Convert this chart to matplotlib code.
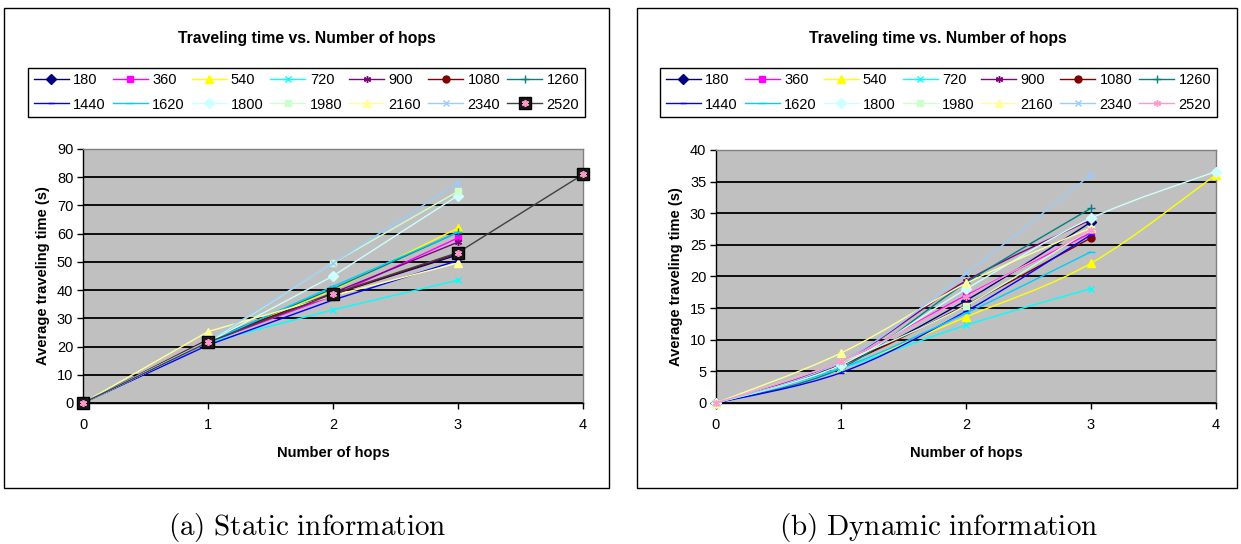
import matplotlib
matplotlib.use("Agg")
import matplotlib.pyplot as plt
from matplotlib.lines import Line2D
from matplotlib.patches import Rectangle, PathPatch
from matplotlib.path import Path

plt.rcParams['font.family'] = ['Liberation Sans', 'DejaVu Sans']
plt.rcParams['mathtext.fontset'] = 'cm'

W, H = 1241, 544

# Mobile agent lifetimes (series labels)
series_labels = ['180', '360', '540', '720', '900', '1080', '1260',
                 '1440', '1620', '1800', '1980', '2160', '2340', '2520']
hop_ticks = [0, 1, 2, 3, 4]

# Static information: average traveling time (s) per number of hops
static_180 = [0, 21.5, 38.5, 52.5]
static_360 = [0, 21.5, 38.0, 58.5]
static_540 = [0, 22.0, 40.0, 62.0]
static_720 = [0, 21.5, 33.0, 43.5]
static_900 = [0, 22.0, 39.0, 57.0]
static_1080 = [0, 22.5, 38.5, 53.0]
static_1260 = [0, 22.0, 40.5, 60.5]
static_1440 = [0, 20.5, 36.5, 50.5]
static_1620 = [0, 21.5, 41.3, 60.5]
static_1800 = [0, 21.5, 45.0, 73.5]
static_1980 = [0, 21.5, 49.6, 75.0]
static_2160 = [0, 25.3, 38.0, 49.6]
static_2340 = [0, 22.0, 49.5, 78.0]
static_2520 = [0, 21.5, 38.7, 53.3, 81.0]

# Dynamic information: average traveling time (s) per number of hops
dynamic_180 = [0, 6.0, 16.2, 28.6]
dynamic_360 = [0, 6.5, 17.0, 26.9]
dynamic_540 = [0, 5.5, 13.6, 22.1, 36.1]
dynamic_720 = [0, 5.5, 12.3, 18.1]
dynamic_900 = [0, 6.5, 19.3, 29.0]
dynamic_1080 = [0, 6.0, 15.5, 26.1]
dynamic_1260 = [0, 5.5, 19.0, 30.8]
dynamic_1440 = [0, 4.8, 14.5, 26.6]
dynamic_1620 = [0, 5.5, 14.2, 23.9]
dynamic_1800 = [0, 6.0, 18.0, 29.2, 36.6]
dynamic_1980 = [0, 6.5, 15.4, 27.5]
dynamic_2160 = [0, 7.9, 18.9, 27.7]
dynamic_2340 = [0, 6.5, 20.5, 36.1]
dynamic_2520 = [0, 6.6, 16.8, 27.4]

static_series = [static_180, static_360, static_540, static_720, static_900,
                 static_1080, static_1260, static_1440, static_1620,
                 static_1800, static_1980, static_2160, static_2340,
                 static_2520]
dynamic_series = [dynamic_180, dynamic_360, dynamic_540, dynamic_720,
                  dynamic_900, dynamic_1080, dynamic_1260, dynamic_1440,
                  dynamic_1620, dynamic_1800, dynamic_1980, dynamic_2160,
                  dynamic_2340, dynamic_2520]

colors = ['#000080', '#FF00FF', '#FFFF00', '#00FFFF', '#800080', '#800000',
          '#008080', '#0000FF', '#00CCFF', '#CCFFFF', '#CCFFCC', '#FFFF99',
          '#99CCFF', '#FF99CC']
star = (6, 2, 0)
markers = ['D', 's', '^', 'x', star, 'o', '+', '_', '_', 'D', 's', '^',
           'x', star]
msizes = [5, 5, 6, 5, 5, 5, 6, 4, 6, 5, 5, 6, 5, 5]


def px_box(x0, y0, x1, y1):
    """Pixel box (top-left origin) -> figure fraction [l, b, w, h]."""
    return [x0 / W, (H - y1) / H, (x1 - x0) / W, (y1 - y0) / H]


def smooth_path(xs, ys):
    """Bezier path through the points, with Catmull-Rom style tangents."""
    pts = list(zip(xs, ys))
    verts = [pts[0]]
    codes = [Path.MOVETO]
    n = len(pts)
    for i in range(n - 1):
        p0 = pts[i - 1] if i > 0 else pts[i]
        p1 = pts[i]
        p2 = pts[i + 1]
        p3 = pts[i + 2] if i + 2 < n else pts[i + 1]
        c1 = (p1[0] + (p2[0] - p0[0]) / 6, p1[1] + (p2[1] - p0[1]) / 6)
        c2 = (p2[0] - (p3[0] - p1[0]) / 6, p2[1] - (p3[1] - p1[1]) / 6)
        verts += [c1, c2, p2]
        codes += [Path.CURVE4] * 3
    return Path(verts, codes)


fig = plt.figure(figsize=(W / 100, H / 100), dpi=100)
fig.patch.set_facecolor('white')

# Chart frames
for box in (px_box(4, 8, 609, 488), px_box(637, 8, 1237, 488)):
    fig.patches.append(Rectangle((box[0], box[1]), box[2], box[3],
                                 transform=fig.transFigure, fill=False,
                                 edgecolor='black', linewidth=1.0))


def style_axes(ax, ymax, ystep):
    ax.set_facecolor('#C0C0C0')
    ax.set_xlim(0, 4)
    ax.set_ylim(0, ymax)
    ax.set_xticks(hop_ticks)
    ax.set_yticks(range(0, ymax + 1, ystep))
    ax.yaxis.grid(True, color='black', linewidth=1.3)
    ax.set_axisbelow(True)
    for side in ('top', 'right'):
        ax.spines[side].set_color('#808080')
        ax.spines[side].set_linewidth(1.0)
    for side in ('left', 'bottom'):
        ax.spines[side].set_color('black')
        ax.spines[side].set_linewidth(1.0)
    ax.tick_params(axis='y', direction='out', length=4, width=1, pad=3,
                   labelsize=10.5)
    ax.tick_params(axis='x', direction='out', length=4, width=1, pad=7,
                   labelsize=10.5)
    ax.set_xlabel('Number of hops', fontsize=10.5, fontweight='bold',
                  labelpad=10)
    ax.set_ylabel('Average traveling time (s)', fontsize=10.5,
                  fontweight='bold', labelpad=5)


def add_legend(handles, box):
    # Legend fills column-wise; reorder so it reads row by row
    order = []
    for c in range(7):
        order += [c, c + 7]
    hs = [handles[i] for i in order]
    ls = [series_labels[i] for i in order]
    leg = fig.legend(hs, ls, ncol=7, loc='center',
                     bbox_to_anchor=tuple(box), mode='expand',
                     fontsize=10.5, handlelength=2.4, handletextpad=0.3,
                     columnspacing=0.5, labelspacing=0.7, borderpad=0.4,
                     fancybox=False, framealpha=1, edgecolor='black',
                     borderaxespad=0)
    leg.get_frame().set_linewidth(1.0)
    return leg


# (a) Static information
ax1 = fig.add_axes(px_box(83, 149, 583, 403))
style_axes(ax1, 90, 10)
handles1 = []
for i, vals in enumerate(static_series):
    xs = hop_ticks[:len(vals)]
    if series_labels[i] == '2520':
        ln, = ax1.plot(xs, vals, color='#404040', linewidth=1.0,
                       marker='s', markersize=8, markerfacecolor='#1a1a1a',
                       markeredgecolor='black', clip_on=False, zorder=3)
        st, = ax1.plot(xs, vals, linestyle='none', marker=star,
                       markersize=5, markeredgecolor=colors[i],
                       markeredgewidth=1.2, clip_on=False, zorder=4)
        handles1.append((ln, st))
    else:
        ln, = ax1.plot(xs, vals, color=colors[i], linewidth=1.0,
                       marker=markers[i], markersize=msizes[i],
                       markerfacecolor=colors[i], markeredgecolor=colors[i],
                       clip_on=False, zorder=3)
        handles1.append(ln)

# (b) Dynamic information (smoothed lines)
ax2 = fig.add_axes(px_box(716, 150, 1216, 403))
style_axes(ax2, 40, 5)
handles2 = []
for i, vals in enumerate(dynamic_series):
    xs = hop_ticks[:len(vals)]
    ax2.add_patch(PathPatch(smooth_path(xs, vals), fill=False,
                            edgecolor=colors[i], linewidth=1.0, zorder=3,
                            clip_on=False))
    ax2.plot(xs, vals, linestyle='none', marker=markers[i],
             markersize=msizes[i], markerfacecolor=colors[i],
             markeredgecolor=colors[i], clip_on=False, zorder=3)
    handles2.append(Line2D([], [], color=colors[i], linewidth=1.0,
                           marker=markers[i], markersize=msizes[i],
                           markerfacecolor=colors[i],
                           markeredgecolor=colors[i]))

add_legend(handles1, px_box(28, 66, 585, 119))
add_legend(handles2, px_box(660, 66, 1217, 119))

# Chart titles
for xc in (307, 938):
    fig.text(xc / W, (H - 39) / H, 'Traveling time vs. Number of hops',
             ha='center', va='center', fontsize=11.3, fontweight='bold')

# Sub-figure captions
fig.text(307 / W, (H - 527) / H, r'$\mathrm{(a)\ Static\ information}$',
         ha='center', va='center', fontsize=21)
fig.text(939 / W, (H - 527) / H, r'$\mathrm{(b)\ Dynamic\ information}$',
         ha='center', va='center', fontsize=21)

fig.savefig('out.png', dpi=100, facecolor='white')
